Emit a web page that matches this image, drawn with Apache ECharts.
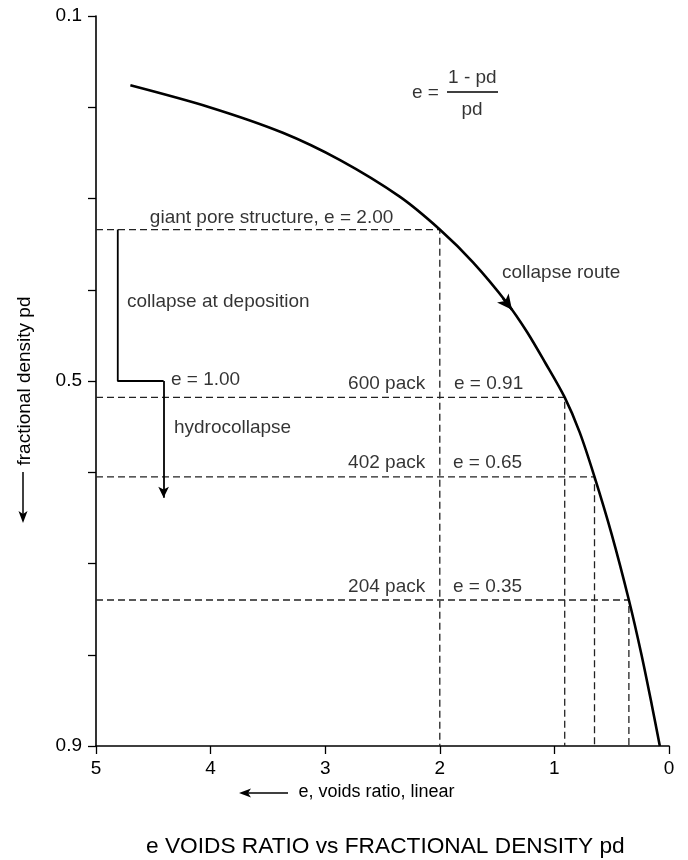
<!DOCTYPE html>
<html>
<head>
<meta charset="utf-8">
<script src="https://cdn.jsdelivr.net/npm/echarts@6/dist/echarts.min.js"></script>
<style>
html,body{margin:0;padding:0;background:#fff;}
#chart{width:688px;height:860px;}
</style>
</head>
<body>
<div id="chart"></div>
<script>
// ---- data ----
const curveE  = [4.70, 4.01, 3.37, 2.87, 2.35, 2.00, 1.71, 1.41, 1.24, 1.08, 0.91, 0.78, 0.65, 0.50, 0.35, 0.24, 0.15, 0.08];
const curvePd = [0.176, 0.200, 0.228, 0.258, 0.298, 0.334, 0.370, 0.415, 0.446, 0.480, 0.518, 0.556, 0.605, 0.668, 0.740, 0.800, 0.855, 0.900];

const refNames = ['giant pore structure', '600 pack', '402 pack', '204 pack'];
const refE  = [2.00, 0.91, 0.65, 0.35];
const refPd = [0.334, 0.518, 0.605, 0.740];

const stepE  = [4.81, 4.81, 4.41];
const stepPd = [0.334, 0.500, 0.500];
const hydroEndPd = 0.628;

const arrowE  = [1.45, 1.37];
const arrowPd = [0.409, 0.422];

const yTickLabels = ['0.1', '0.5', '0.9'];
const xTicks = [0, 1, 2, 3, 4, 5];

const annotationTexts = ['giant pore structure, e = 2.00', 'collapse route', 'collapse at deposition', 'e = 1.00',
  '600 pack', 'e = 0.91', 'hydrocollapse', '402 pack', 'e = 0.65', '204 pack', 'e = 0.35', 'e =', '1 - pd'];
const annotationE  = [4.53, 1.457, 4.73, 4.346, 2.80, 1.876, 4.32, 2.80, 1.885, 2.80, 1.885, 2.243, 1.928];
const annotationPd = [0.3214, 0.3816, 0.4134, 0.4989, 0.5033, 0.5033, 0.5515, 0.5899, 0.5899, 0.7258, 0.7258, 0.1844, 0.168];
const formulaDenom = {text: 'pd', e: 1.719, pd: 0.203};
const formulaBarE = [1.937, 1.492];
const formulaBarPd = 0.1833;

// ---- chart ----
const FONT = 'Liberation Sans';
const INK = '#000';
const chart = echarts.init(document.getElementById('chart'));

const refSeries = refNames.map((n, i) => ({
  name: n,
  type: 'line',
  data: [[5, refPd[i]], [refE[i], refPd[i]], [refE[i], 0.9]],
  symbol: 'none',
  lineStyle: {color: '#222', width: 1.3, type: [7, 4]},
  z: 2,
  silent: true
}));

const annData = annotationTexts.map((t, i) => [annotationE[i], annotationPd[i], t]);

chart.setOption({
  animation: false,
  backgroundColor: '#fff',
  textStyle: {fontFamily: FONT},
  title: {
    text: 'e VOIDS RATIO vs FRACTIONAL DENSITY pd',
    left: 146, top: 835, padding: 0,
    textStyle: {fontFamily: FONT, fontSize: 22.7, fontWeight: 'normal', color: INK}
  },
  grid: {left: 96, right: 19, top: 16, bottom: 114},
  xAxis: {
    type: 'value', min: 0, max: 5, interval: 1, inverse: true,
    name: 'e, voids ratio, linear', nameLocation: 'middle', nameGap: 37,
    nameTextStyle: {fontFamily: FONT, fontSize: 18, color: INK, padding: [0, 12, 0, 0]},
    axisLine: {onZero: false, lineStyle: {color: INK, width: 1.6}},
    axisTick: {show: true, length: 8, inside: false, lineStyle: {color: INK, width: 1.3}},
    axisLabel: {fontFamily: FONT, fontSize: 19, color: INK, margin: 13,
      formatter: v => xTicks.includes(Math.round(v)) ? String(Math.round(v)) : ''},
    splitLine: {show: false}
  },
  yAxis: {
    type: 'value', min: 0.1, max: 0.9, interval: 0.1, inverse: true,
    name: 'fractional density pd', nameLocation: 'middle', nameGap: 56, nameRotate: 90,
    nameTextStyle: {fontFamily: FONT, fontSize: 19, color: INK, padding: [0, 0, 6, 0]},
    axisLine: {onZero: false, lineStyle: {color: INK, width: 1.6}},
    axisTick: {show: true, length: 8, lineStyle: {color: INK, width: 1.3}},
    axisLabel: {fontFamily: FONT, fontSize: 19, color: INK, margin: 14,
      formatter: v => { const s = v.toFixed(1); return yTickLabels.includes(s) ? s : ''; }},
    splitLine: {show: false}
  },
  series: [
    ...refSeries,
    {
      name: 'collapse route', type: 'line', smooth: 0.3,
      data: curveE.map((e, i) => [e, curvePd[i]]),
      symbol: 'none', lineStyle: {color: INK, width: 2.6}, z: 5,
      markLine: {
        silent: true, symbol: ['none', 'arrow'], symbolSize: [11, 15],
        label: {show: false},
        lineStyle: {color: INK, width: 2.4, type: 'solid'},
        data: [[{coord: [arrowE[0], arrowPd[0]]}, {coord: [arrowE[1], arrowPd[1]]}]]
      }
    },
    {
      name: 'collapse at deposition', type: 'line',
      data: stepE.map((e, i) => [e, stepPd[i]]),
      symbol: 'none', lineStyle: {color: INK, width: 1.8}, z: 4,
      markLine: {
        silent: true, symbol: ['none', 'arrow'], symbolSize: [8, 11],
        label: {show: false},
        lineStyle: {color: INK, width: 1.8, type: 'solid'},
        data: [[{coord: [stepE[2], stepPd[2]]}, {coord: [stepE[2], hydroEndPd]}]]
      }
    },
    {
      name: 'formula bar', type: 'line',
      data: formulaBarE.map(e => [e, formulaBarPd]),
      symbol: 'none', lineStyle: {color: INK, width: 1.3}, z: 4
    },
    {
      name: 'annotations', type: 'scatter', symbolSize: 0, z: 6, silent: true,
      data: annData,
      label: {show: true, position: [0, 0], align: 'left', verticalAlign: 'middle',
        fontFamily: FONT, fontSize: 19, color: INK, formatter: p => p.value[2]}
    },
    {
      name: 'formula denominator', type: 'scatter', symbolSize: 0, z: 6, silent: true,
      data: [[formulaDenom.e, formulaDenom.pd, formulaDenom.text]],
      label: {show: true, position: [0, 0], align: 'center', verticalAlign: 'middle',
        fontFamily: FONT, fontSize: 19, color: INK, formatter: p => p.value[2]}
    }
  ],
  graphic: [
    {type: 'line', shape: {x1: 23, y1: 472, x2: 23, y2: 514}, style: {stroke: INK, lineWidth: 1.5}},
    {type: 'polygon', shape: {points: [[23, 523], [18.5, 511], [23, 514], [27.5, 511]]}, style: {fill: INK}},
    {type: 'line', shape: {x1: 288, y1: 793, x2: 248, y2: 793}, style: {stroke: INK, lineWidth: 1.5}},
    {type: 'polygon', shape: {points: [[239, 793], [251, 788.5], [248, 793], [251, 797.5]]}, style: {fill: INK}}
  ]
});
</script>
</body>
</html>
